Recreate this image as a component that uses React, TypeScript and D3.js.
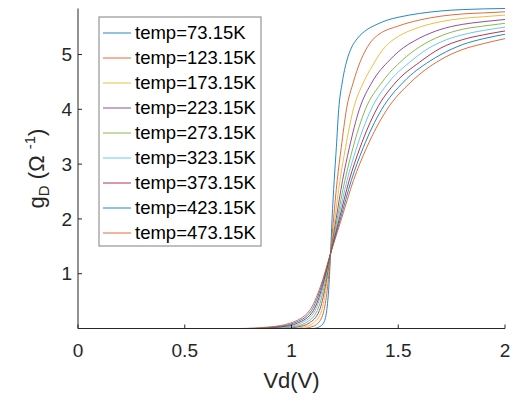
import React from "react";
import * as d3 from "d3";

const legendLabels = [
  "temp=73.15K", "temp=123.15K", "temp=173.15K", "temp=223.15K", "temp=273.15K",
  "temp=323.15K", "temp=373.15K", "temp=423.15K", "temp=473.15K",
];
const colors = ["#0072BD", "#D95319", "#EDB120", "#7E2F8E", "#77AC30", "#4DBEEE", "#A2142F", "#0072BD", "#D95319"];
const xTicks = [0, 0.5, 1, 1.5, 2];
const xTickLabels = ["0", "0.5", "1", "1.5", "2"];
const yTicks = [1, 2, 3, 4, 5];
const yTickLabels = ["1", "2", "3", "4", "5"];

// [Vd, gD] pairs
const s73 = [[0,0],[1.10,0],[1.13,0.03],[1.15,0.1],[1.165,0.33],[1.175,0.76],[1.183,1.37],[1.19,2.0],[1.2,2.7],[1.21,3.3],[1.221,3.99],[1.238,4.5],[1.26,4.9],[1.278,5.1],[1.31,5.3],[1.352,5.45],[1.4,5.55],[1.45,5.63],[1.5,5.68],[1.6,5.75],[1.7,5.795],[1.8,5.82],[1.9,5.833],[2.0,5.84]];
const s123 = [[0,0],[1.044,0],[1.093,0.03],[1.125,0.1],[1.152,0.33],[1.169,0.76],[1.183,1.37],[1.197,2.0],[1.214,2.7],[1.233,3.3],[1.257,3.99],[1.29,4.5],[1.32,4.85],[1.35,5.1],[1.38,5.27],[1.41,5.37],[1.5,5.52],[1.6,5.63],[1.7,5.70],[1.8,5.74],[1.9,5.76],[2.0,5.78]];
const s173 = [[0,0],[0.995,0],[1.061,0.03],[1.103,0.1],[1.141,0.33],[1.163,0.76],[1.183,1.37],[1.203,2.0],[1.227,2.7],[1.253,3.3],[1.289,3.99],[1.338,4.5],[1.38,4.8],[1.42,5.05],[1.46,5.22],[1.5,5.33],[1.6,5.5],[1.7,5.6],[1.8,5.66],[1.9,5.69],[2.0,5.72]];
const s223 = [[0,0],[0.95,0],[1.031,0.03],[1.083,0.1],[1.131,0.33],[1.158,0.76],[1.183,1.37],[1.209,2.0],[1.239,2.7],[1.271,3.3],[1.317,3.99],[1.378,4.5],[1.46,4.9],[1.5,5.05],[1.6,5.3],[1.7,5.46],[1.8,5.55],[1.9,5.60],[2.0,5.64]];
const s273 = [[0,0],[0.908,0],[1.003,0.03],[1.065,0.1],[1.121,0.33],[1.153,0.76],[1.183,1.37],[1.214,2.0],[1.25,2.7],[1.288,3.3],[1.345,3.99],[1.425,4.5],[1.52,4.9],[1.6,5.14],[1.7,5.34],[1.8,5.46],[1.9,5.52],[2.0,5.57]];
const s323 = [[0,0],[0.865,0],[0.976,0.03],[1.046,0.1],[1.111,0.33],[1.148,0.76],[1.183,1.37],[1.219,2.0],[1.26,2.7],[1.305,3.3],[1.372,3.99],[1.457,4.5],[1.56,4.88],[1.62,5.06],[1.7,5.23],[1.8,5.36],[1.9,5.44],[2.0,5.50]];
const s373 = [[0,0],[0.827,0],[0.951,0.03],[1.029,0.1],[1.103,0.33],[1.144,0.76],[1.183,1.37],[1.224,2.0],[1.27,2.7],[1.321,3.3],[1.397,3.99],[1.49,4.5],[1.6,4.86],[1.7,5.12],[1.8,5.27],[1.9,5.36],[2.0,5.43]];
const s423 = [[0,0],[0.789,0],[0.925,0.03],[1.012,0.1],[1.094,0.33],[1.139,0.76],[1.183,1.37],[1.229,2.0],[1.28,2.7],[1.336,3.3],[1.421,3.99],[1.525,4.5],[1.648,4.88],[1.7,5.0],[1.8,5.18],[1.9,5.29],[2.0,5.37]];
const s473 = [[0,0],[0.75,0],[0.90,0.03],[0.995,0.1],[1.085,0.33],[1.135,0.76],[1.183,1.37],[1.234,2.0],[1.29,2.7],[1.352,3.3],[1.446,3.99],[1.56,4.5],[1.696,4.9],[1.8,5.09],[1.9,5.2],[2.0,5.29]];
const seriesList = [s73, s123, s173, s223, s273, s323, s373, s423, s473];

const W = 511, H = 397;
const PL = 78, PR = 505, PT = 8.5, PB = 328.5;
const FONT = "'Liberation Sans', Arial, Helvetica, sans-serif";
const AX = "#262626";

export default function App() {
  const x = d3.scaleLinear().domain([0, 2]).range([PL, PR]);
  const y = d3.scaleLinear().domain([0, 5.84]).range([PB, PT]);
  const line = d3.line<number[]>().x(d => x(d[0])).y(d => y(d[1])).curve(d3.curveMonotoneX);

  const legX = 99, legY = 17, legW = 162, legH = 229;
  return (
    <svg width={W} height={H} style={{ position: "absolute", left: 0, top: 0, background: "#fff" }} fontFamily={FONT}>
      <rect x={0} y={0} width={W} height={H} fill="#fff" />
      {seriesList.map((s, i) => (
        <path key={i} d={line(s) || ""} fill="none" stroke={colors[i]} strokeWidth={1} strokeOpacity={0.85} />
      ))}
      {/* axes */}
      <line x1={PL} y1={PB} x2={PR} y2={PB} stroke={AX} strokeWidth={1} />
      <line x1={PL} y1={PB} x2={PL} y2={PT} stroke={AX} strokeWidth={1} />
      {xTicks.map((t, i) => (
        <g key={"xt" + i}>
          <line x1={x(t)} x2={x(t)} y1={PB} y2={PB - 4} stroke={AX} />
          <text x={x(t)} y={357} textAnchor="middle" fontSize={19} fill={AX}>{xTickLabels[i]}</text>
        </g>
      ))}
      {yTicks.map((t, i) => (
        <g key={"yt" + i}>
          <line x1={PL} x2={PL + 4} y1={y(t)} y2={y(t)} stroke={AX} />
          <text x={72} y={y(t)} dy="0.35em" textAnchor="end" fontSize={19} fill={AX}>{yTickLabels[i]}</text>
        </g>
      ))}
      <text x={(PL + PR) / 2} y={388} textAnchor="middle" fontSize={22} fill={AX}>Vd(V)</text>
      <text transform={`translate(44, ${(PT + PB) / 2}) rotate(-90)`} textAnchor="middle" fontSize={22} fill={AX}>
        g<tspan fontSize={15} dy={5}>D</tspan><tspan dy={-5}> (Ω </tspan><tspan fontSize={15} dy={-9}>-1</tspan><tspan dy={9}>)</tspan>
      </text>
      {/* legend */}
      <rect x={legX} y={legY} width={legW} height={legH} fill="#fff" stroke="#808080" strokeWidth={1} />
      {legendLabels.map((lab, i) => {
        const yy = 33 + i * 25;
        return (
          <g key={"lg" + i}>
            <line x1={103} x2={131} y1={yy} y2={yy} stroke={colors[i]} strokeWidth={1} strokeOpacity={0.85} />
            <text x={135} y={yy} dy="0.35em" fontSize={18.5} fill="#000">{lab}</text>
          </g>
        );
      })}
    </svg>
  );
}
